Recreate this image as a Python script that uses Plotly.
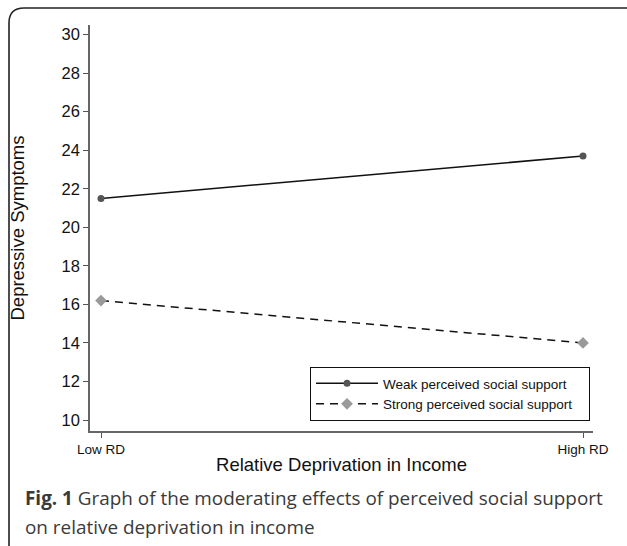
import plotly.graph_objects as go

categories = ["Low RD", "High RD"]
x_pos = [0, 1]
weak_support = [21.5, 23.7]
strong_support = [16.2, 14.0]
y_ticks = [10, 12, 14, 16, 18, 20, 22, 24, 26, 28, 30]

W, H = 627, 546
L, R, T, B = 90, 34, 25, 115
PW, PH = W - L - R, H - T - B

def px(x):
    return (x - L) / PW

def py(y):
    return (H - B - y) / PH

fig = go.Figure()
fig.add_trace(go.Scatter(
    x=x_pos, y=weak_support, mode="lines+markers",
    name="Weak perceived social support\u00a0\u00a0\u00a0",
    line=dict(color="#111111", width=1.5),
    marker=dict(symbol="circle", size=7, color="#555555"),
))
fig.add_trace(go.Scatter(
    x=x_pos, y=strong_support, mode="lines+markers",
    name="Strong perceived social support\u00a0\u00a0\u00a0",
    line=dict(color="#111111", width=1.5, dash="8px,6px"),
    marker=dict(symbol="diamond", size=9, color="#9a9a9a"),
))

# rounded frame (decoration)
r = 15
x0, y0 = 9, 8
x1, y1 = 640, 560
path = (f"M {px(x1)} {py(y0)} L {px(x0 + r)} {py(y0)} "
        f"Q {px(x0)} {py(y0)} {px(x0)} {py(y0 + r)} "
        f"L {px(x0)} {py(y1 - r)} Q {px(x0)} {py(y1)} {px(x0 + r)} {py(y1)} "
        f"L {px(x1)} {py(y1)}")
fig.add_shape(type="path", path=path, xref="paper", yref="paper",
              line=dict(color="#222222", width=1.6), layer="above")

cap_font = dict(family="Open Sans, Noto Sans, sans-serif", size=18.9, color="#3a3a3a")
fig.add_annotation(xref="paper", yref="paper", x=px(23), y=py(498),
                   xanchor="left", yanchor="middle", showarrow=False,
                   text="<b>Fig. 1</b> Graph of the moderating effects of perceived social support",
                   font=cap_font)
fig.add_annotation(xref="paper", yref="paper", x=px(23), y=py(527),
                   xanchor="left", yanchor="middle", showarrow=False,
                   text="on relative deprivation in income", font=cap_font)

fig.update_layout(
    width=W, height=H,
    margin=dict(l=L, r=R, t=T, b=B),
    paper_bgcolor="white", plot_bgcolor="white",
    font=dict(family="Arial, Liberation Sans, sans-serif", color="#111111"),
    showlegend=True,
    legend=dict(
        x=1 - 3 / PW, y=py(421), xanchor="right", yanchor="bottom",
        bordercolor="#111111", borderwidth=1, bgcolor="white",
        font=dict(size=13.5, color="#111111"),
        itemwidth=62,
    ),
    xaxis=dict(
        range=[-11 / 482, 1 + 10 / 482],
        tickvals=x_pos, ticktext=categories,
        ticks="outside", ticklen=5, tickcolor="#555555", tickwidth=1,
        showline=True, linecolor="#666666", linewidth=1.5,
        showgrid=False, zeroline=False,
        tickfont=dict(size=13.5),
        title=dict(text="Relative Deprivation in Income", font=dict(size=18.5), standoff=2),
    ),
    yaxis=dict(
        range=[9.43, 30.5],
        tickvals=y_ticks,
        ticks="outside", ticklen=5, tickcolor="#555555", tickwidth=1,
        showline=True, linecolor="#666666", linewidth=1.5,
        showgrid=False, zeroline=False,
        tickfont=dict(size=16.5),
        title=dict(text="Depressive Symptoms", font=dict(size=18.5), standoff=32),
    ),
)

fig.write_html(
    "out.html",
    config={"displayModeBar": False},
    post_script="document.body.style.margin='0';document.body.style.overflow='hidden';",
)
